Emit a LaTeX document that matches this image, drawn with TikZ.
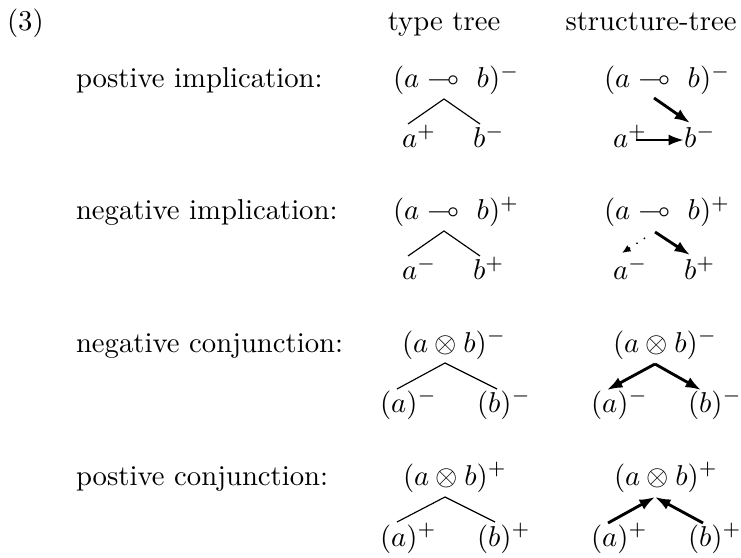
\documentclass[tikz,border=0pt]{standalone}
\usepackage{amssymb}
\usetikzlibrary{arrows.meta}
\begin{document}
\begin{tikzpicture}[x=0.3484pt,y=-0.3484pt,
  txt/.style={inner sep=0pt,outer sep=0pt,anchor=base west},
  hdr/.style={inner sep=0pt,outer sep=0pt,anchor=base},
  tline/.style={line width=0.4pt},
  sarrow/.style={line width=1pt,-{Latex[length=5.4pt,width=3.9pt]}},
  darrow/.style={line width=0.5pt,dash pattern=on 0.5pt off 2.6pt,-{Latex[length=3pt,width=2.6pt]}}]
\useasboundingbox (0,0) rectangle (741,558);
% header
\node[txt] (num) at (7,31) {(3)};
\node[hdr] (htype) at (444,31) {type tree};
\node[hdr] (hstruct) at (651,31) {structure-tree};
% row labels
\node[txt] (l1) at (76,88) {postive implication:};
\node[txt] (l2) at (76,220) {negative implication:};
\node[txt] (l3) at (76,352) {negative conjunction:};
\node[txt] (l4) at (76,485) {postive conjunction:};
% ---------- row 1 ----------
\node[txt] (p1) at (393,88) {$(a \multimap\ b)^-$};
\node[txt] (a1) at (402,148) {$a^+$};
\node[txt] (b1) at (473,148) {$b^-$};
\coordinate (p1t) at (444,99);
\coordinate (a1t) at (408,124);
\coordinate (b1t) at (480,124);
\draw[tline] (a1t) -- (p1t) -- (b1t);
\node[txt] (sp1) at (604,88) {$(a \multimap\ b)^-$};
\node[txt] (sa1) at (613,148) {$a^+$};
\node[txt] (sb1) at (684,148) {$b^-$};
\coordinate (sp1t) at (654,98);
\coordinate (sb1t) at (690,123);
\coordinate (sa1r) at (636,140);
\coordinate (sb1l) at (684,140);
\draw[sarrow] (sp1t) -- (sb1t);
\draw[sarrow] (sa1r) -- (sb1l);
% ---------- row 2 ----------
\node[txt] (p2) at (393,220) {$(a \multimap\ b)^+$};
\node[txt] (a2) at (402,280) {$a^-$};
\node[txt] (b2) at (473,280) {$b^+$};
\coordinate (p2t) at (444,231);
\coordinate (a2t) at (408,256);
\coordinate (b2t) at (480,256);
\draw[tline] (a2t) -- (p2t) -- (b2t);
\node[txt] (sp2) at (604,220) {$(a \multimap\ b)^+$};
\node[txt] (sa2) at (613,280) {$a^-$};
\node[txt] (sb2) at (684,280) {$b^+$};
\coordinate (sp2t) at (655,232);
\coordinate (sb2t) at (690,255);
\coordinate (sp2l) at (645,238);
\coordinate (sa2t) at (622,253);
\draw[sarrow] (sp2t) -- (sb2t);
\draw[darrow] (sp2l) -- (sa2t);
% ---------- row 3 ----------
\node[txt] (p3) at (402,352) {$(a \otimes b)^-$};
\node[txt] (a3) at (380,412) {$(a)^-$};
\node[txt] (b3) at (477,412) {$(b)^-$};
\coordinate (p3t) at (445,363);
\coordinate (a3t) at (397,389);
\coordinate (b3t) at (497,389);
\draw[tline] (a3t) -- (p3t) -- (b3t);
\node[txt] (sp3) at (613,352) {$(a \otimes b)^-$};
\node[txt] (sa3) at (591,412) {$(a)^-$};
\node[txt] (sb3) at (688,412) {$(b)^-$};
\coordinate (sp3t) at (655,364);
\coordinate (sa3t) at (607,390);
\coordinate (sb3t) at (701,390);
\draw[sarrow] (sp3t) -- (sa3t);
\draw[sarrow] (sp3t) -- (sb3t);
% ---------- row 4 ----------
\node[txt] (p4) at (403,485) {$(a \otimes b)^+$};
\node[txt] (a4) at (380,546) {$(a)^+$};
\node[txt] (b4) at (477,546) {$(b)^+$};
\coordinate (p4t) at (445,497);
\coordinate (a4t) at (397,522);
\coordinate (b4t) at (495,522);
\draw[tline] (a4t) -- (p4t) -- (b4t);
\node[txt] (sp4) at (614,485) {$(a \otimes b)^+$};
\node[txt] (sa4) at (591,546) {$(a)^+$};
\node[txt] (sb4) at (688,546) {$(b)^+$};
\coordinate (sp4t) at (655,497);
\coordinate (sa4t) at (608,523);
\coordinate (sb4t) at (703,523);
\draw[sarrow] (sa4t) -- (sp4t);
\draw[sarrow] (sb4t) -- (sp4t);
\end{tikzpicture}
\end{document}
